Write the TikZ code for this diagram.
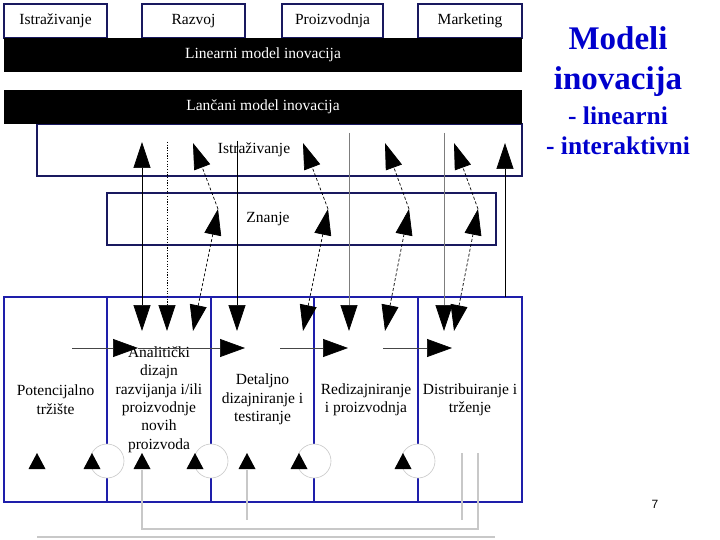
\documentclass[tikz,border=0pt]{standalone}
\usepackage{fontspec}
\setmainfont{Liberation Serif}
\newfontfamily\sansf{Liberation Sans}
\usetikzlibrary{arrows.meta}
\definecolor{navy}{RGB}{25,25,95}
\definecolor{bblue}{RGB}{30,30,170}
\definecolor{ttl}{RGB}{0,0,205}
\definecolor{lgray}{RGB}{200,200,200}
\definecolor{mgray}{RGB}{125,125,125}
\definecolor{dgray}{RGB}{70,70,70}
\newcommand\uptri[1]{\fill (#1) ++(-8.5,7.5) -- ++(17,0) -- ++(-8.5,-16) -- cycle;}
\begin{document}
\begin{tikzpicture}[x=1pt,y=-1pt,
  font=\fontsize{15.5}{18.4}\selectfont,
  topbox/.style={draw=navy, line width=1.8pt, fill=white, minimum height=34pt, inner sep=0pt},
  blackbar/.style={fill=black, text=white, minimum width=518pt, minimum height=34pt, inner sep=0pt},
  chainbox/.style={draw=navy, line width=1.8pt, fill=white, inner sep=0pt},
  colbox/.style={draw=bblue, line width=2.2pt, minimum height=205pt, inner sep=0pt, align=center},
  circ/.style={circle, draw=lgray, line width=0.6pt, fill=white, minimum size=34pt, inner sep=0pt},
  tip/.style={-{Triangle[length=26pt,width=17pt,color=black]}},
  dtip/.style={{Triangle[length=26pt,width=17pt,color=black]}-{Triangle[length=26pt,width=17pt,color=black]}},
  htip/.style={-{Triangle[length=25pt,width=18pt,color=black]}},
  vline/.style={line width=0.7pt, black},
  gline/.style={line width=0.7pt, mgray},
  dotline/.style={line width=0.7pt, black, dash pattern=on 1.2pt off 1.5pt},
  dline/.style={line width=0.7pt, black, dash pattern=on 3pt off 2pt},
  hline/.style={line width=0.7pt, dgray},
  conn/.style={line width=1.5pt, lgray}
]
\useasboundingbox (0,0) rectangle (720,540);
\fill[white] (0,0) rectangle (720,540);

% linear model
\node[topbox, minimum width=103pt] (t1) at (55.5,21) {Istraživanje};
\node[topbox, minimum width=103pt] (t2) at (193.5,21) {Razvoj};
\node[topbox, minimum width=101pt] (t3) at (332.5,21) {Proizvodnja};
\node[topbox, minimum width=104pt] (t4) at (470,21) {Marketing};
\node[blackbar] (lin) at (263,55) {Linearni model inovacija};

% chain model
\node[chainbox, minimum width=485pt, minimum height=52pt] (istr) at (279.5,150) {};
\node[blackbar] (lan) at (263,107) {Lančani model inovacija};
\node (istrl) at (254,150) {Istraživanje};
\node[chainbox, minimum width=389pt, minimum height=52pt] (zn) at (301.5,219) {};
\node (znl) at (268,219) {Znanje};

% bottom columns
\node[colbox, minimum width=103pt] (c1) at (55.5,399.5) {Potencijalno\\tržište};
\node[colbox, minimum width=104pt] (c2) at (159,399.5) {Analitički\\dizajn\\razvijanja i/ili\\proizvodnje\\novih\\proizvoda};
\node[colbox, minimum width=103pt] (c3) at (262.5,399.5) {Detaljno\\dizajniranje i\\testiranje};
\node[colbox, minimum width=104pt] (c4) at (366,399.5) {Redizajniranje\\i proizvodnja};
\node[colbox, minimum width=104pt] (c5) at (470,399.5) {Distribuiranje i\\trženje};

% circles on dividers
\node[circ] (k1) at (107,461) {};
\node[circ] (k2) at (211,461) {};
\node[circ] (k3) at (314,461) {};
\node[circ] (k4) at (418,461) {};

% gray feedback connectors
\coordinate (g1a) at (478,453);
\coordinate (g1b) at (478,529);
\coordinate (g1c) at (142,529);
\coordinate (g1d) at (142,470);
\draw[conn] (g1a) -- (g1b) -- (g1c) -- (g1d);
\coordinate (g2a) at (247,470);
\coordinate (g2b) at (247,520);
\draw[conn] (g2a) -- (g2b);
\coordinate (g3a) at (462,453);
\coordinate (g3b) at (462,520);
\draw[conn] (g3a) -- (g3b);
\coordinate (g4a) at (37,537);
\coordinate (g4b) at (495,537);
\draw[conn] (g4a) -- (g4b);

% triangles
\uptri{37,461.5}
\uptri{92,461.5}
\uptri{142,461.5}
\uptri{195,461.5}
\uptri{247,461.5}
\uptri{299,461.5}
\uptri{403,461.5}

% vertical connectors
\coordinate (v1t) at (142,142); \coordinate (v1b) at (142,331);
\draw[vline, dtip] (v1t) -- (v1b);
\coordinate (v2t) at (167,142); \coordinate (v2b) at (167,331);
\draw[dotline, tip] (v2t) -- (v2b);
\coordinate (v3t) at (237,141); \coordinate (v3b) at (237,331);
\draw[vline, tip] (v3t) -- (v3b);
\coordinate (v4t) at (349,133); \coordinate (v4b) at (349,331);
\draw[gline, tip] (v4t) -- (v4b);
\coordinate (v5t) at (444,133); \coordinate (v5b) at (444,331);
\draw[gline, tip] (v5t) -- (v5b);
\coordinate (v6b) at (505,297); \coordinate (v6t) at (505,143);
\draw[vline, tip] (v6b) -- (v6t);

% zigzag connectors through Znanje
\foreach \i/\a/\b in {1/193/218, 2/303/328, 3/385/409, 4/454/478}{
  \coordinate (z\i b) at (\a,331);
  \coordinate (z\i m) at (\b,209);
  \coordinate (z\i t) at (\a,143);
  \draw[dline, dtip] (z\i b) -- (z\i m);
  \draw[dline, tip] (z\i m) -- (z\i t);
}

% horizontal arrows
\coordinate (h1a) at (72,348);  \coordinate (h1b) at (138,348);
\coordinate (h2a) at (138,348); \coordinate (h2b) at (245,348);
\coordinate (h3a) at (280,348); \coordinate (h3b) at (348,348);
\coordinate (h4a) at (383,348); \coordinate (h4b) at (452,348);
\draw[hline, htip] (h1a) -- (h1b);
\draw[hline, htip] (h2a) -- (h2b);
\draw[hline, htip] (h3a) -- (h3b);
\draw[hline, htip] (h4a) -- (h4b);

% title
\node[anchor=base, text=ttl, font=\fontsize{33}{38}\bfseries\selectfont] (ti1) at (618,50) {Modeli};
\node[anchor=base, text=ttl, font=\fontsize{33}{38}\bfseries\selectfont] (ti2) at (618,90) {inovacija};
\node[anchor=base, text=ttl, font=\fontsize{25.5}{30}\bfseries\selectfont] (ti3) at (618,125) {- linearni};
\node[anchor=base, text=ttl, font=\fontsize{25.5}{30}\bfseries\selectfont] (ti4) at (618,155) {- interaktivni};
\node[font=\sansf\fontsize{12}{14}\selectfont] (pg) at (655,504) {7};
\end{tikzpicture}
\end{document}
